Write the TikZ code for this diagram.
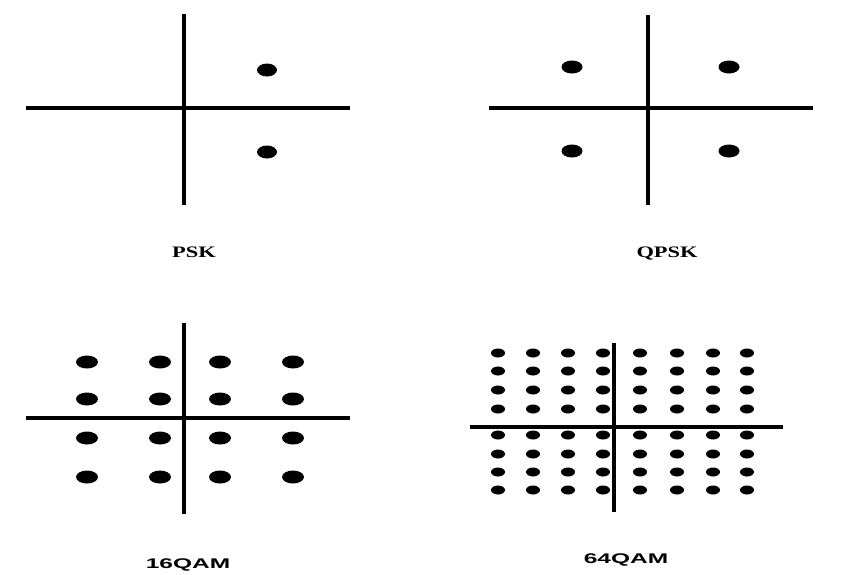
\documentclass[tikz,border=0pt]{standalone}
\usepackage{fontspec}
\newfontfamily\lblserif{Liberation Serif}
\newfontfamily\lblsans{Liberation Sans}
\newcommand{\wideserif}[1]{\scalebox{1.4}[1]{#1}}
\newcommand{\widesans}[1]{\scalebox{1.75}[1]{#1}}
\begin{document}
\begin{tikzpicture}[x=1pt,y=-1pt,
  axis/.style={line width=3.3pt,black},
  bigdot/.style={fill=black},
  serlabel/.style={font=\lblserif\bfseries\fontsize{16}{16}\selectfont,inner sep=0pt},
  sanlabel/.style={font=\lblsans\bfseries\fontsize{14}{14}\selectfont,inner sep=0pt}]
\useasboundingbox (0,0) rectangle (862,574);
\fill[white] (0,0) rectangle (862,574);
% ---- PSK ----
\coordinate (p1l) at (26,108); \coordinate (p1r) at (350,108);
\coordinate (p1t) at (184,14); \coordinate (p1b) at (184,205);
\draw[axis] (p1l) -- (p1r); \draw[axis] (p1t) -- (p1b);
\foreach \y in {70,152} \fill[bigdot] (267,\y) ellipse [x radius=10pt, y radius=6.5pt];
\node[serlabel] (lpsk) at (194,252) {\wideserif{PSK}};
% ---- QPSK ----
\coordinate (p2l) at (489,108); \coordinate (p2r) at (813,108);
\coordinate (p2t) at (648,15); \coordinate (p2b) at (648,205);
\draw[axis] (p2l) -- (p2r); \draw[axis] (p2t) -- (p2b);
\foreach \x in {572,729} \foreach \y in {67,151}
  \fill[bigdot] (\x,\y) ellipse [x radius=10.5pt, y radius=6.5pt];
\node[serlabel] (lqpsk) at (667,253) {\wideserif{QPSK}};
% ---- 16QAM ----
\coordinate (p3l) at (26,418); \coordinate (p3r) at (350,418);
\coordinate (p3t) at (184,323); \coordinate (p3b) at (184,514);
\draw[axis] (p3l) -- (p3r); \draw[axis] (p3t) -- (p3b);
\foreach \x in {87,160,220,293} \foreach \y in {362,399,438,477}
  \fill[bigdot] (\x,\y) ellipse [x radius=11pt, y radius=6.5pt];
\node[sanlabel] (l16) at (188,565) {\widesans{16QAM}};
% ---- 64QAM ----
\coordinate (p4l) at (470,427); \coordinate (p4r) at (783,427);
\coordinate (p4t) at (614,343); \coordinate (p4b) at (614,512);
\draw[axis] (p4l) -- (p4r); \draw[axis] (p4t) -- (p4b);
\foreach \x in {498,533,568,603,640,677,713,747} \foreach \y in {353,371,390,409,435,454,472,490}
  \fill[bigdot] (\x,\y) ellipse [x radius=7pt, y radius=4.5pt];
\node[sanlabel] (l64) at (626,560) {\widesans{64QAM}};
\end{tikzpicture}
\end{document}
